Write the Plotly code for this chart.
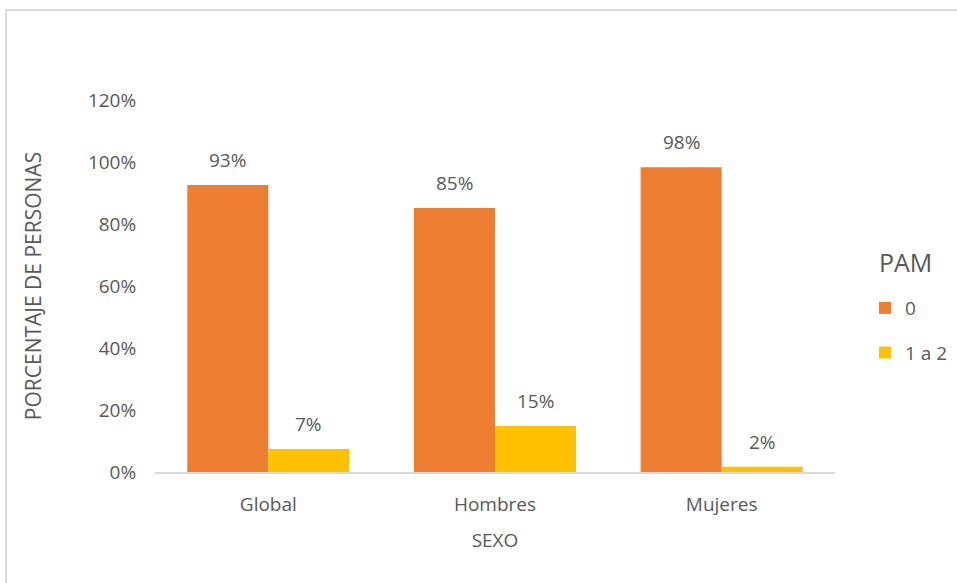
import plotly.graph_objects as go

categories = ["Global", "Hombres", "Mujeres"]
series_names = ["0", "1 a 2"]
values_0 = [0.926, 0.852, 0.983]
values_1a2 = [0.074, 0.148, 0.017]
colors = ["#ED7D31", "#FFC000"]
y_ticks = [0, 0.2, 0.4, 0.6, 0.8, 1.0, 1.2]
legend_title = "PAM"

FONT = "Open Sans"
GRAY = "#595959"

fig = go.Figure()
for i, (name, vals) in enumerate(zip(series_names, [values_0, values_1a2])):
    fig.add_trace(go.Bar(
        x=categories, y=vals, name=name, marker_color=colors[i],
        marker_line_width=0, legendgroup=name,
    ))

# data labels
offsets = [-40.5, 40.5]
for i, vals in enumerate([values_0, values_1a2]):
    for c, v in zip(categories, vals):
        fig.add_annotation(
            x=c, y=v, text=f"{round(v*100):.0f}%", showarrow=False,
            xshift=offsets[i], yanchor="bottom", yshift=10,
            font=dict(family=FONT, size=19, color=GRAY),
        )

L, R, T, B = 155, 122, 100, 111
W, H = 957, 583
pw, ph = W - L - R, H - T - B

def px_x(px):
    return (px - L) / pw

def px_y(py):
    return (H - B - py) / ph

# legend title
fig.add_annotation(
    xref="paper", yref="paper", x=px_x(877), y=px_y(262),
    xanchor="left", yanchor="middle", text=legend_title, showarrow=False,
    font=dict(family=FONT, size=25, color=GRAY),
)

# chart border (outer frame)
fig.add_shape(type="line", xref="paper", yref="paper",
              x0=px_x(6), x1=px_x(960), y0=px_y(10), y1=px_y(10),
              line=dict(color="#D9D9D9", width=2))
fig.add_shape(type="line", xref="paper", yref="paper",
              x0=px_x(6), x1=px_x(6), y0=px_y(10), y1=px_y(590),
              line=dict(color="#D9D9D9", width=2))

fig.update_layout(
    width=W, height=H,
    margin=dict(l=L, r=R, t=T, b=B, autoexpand=False),
    paper_bgcolor="white", plot_bgcolor="white",
    barmode="group", bargap=0.285, bargroupgap=0,
    font=dict(family=FONT, color=GRAY, size=19),
    legend=dict(
        x=px_x(865), xanchor="left", y=px_y(289), yanchor="top",
        font=dict(size=19, color=GRAY), tracegroupgap=17,
        itemwidth=30,
    ),
    showlegend=True,
)
fig.update_xaxes(
    showline=True, linecolor="#D9D9D9", linewidth=2,
    ticks="outside", ticklen=14, tickcolor="rgba(0,0,0,0)",
    tickfont=dict(size=19, color=GRAY),
    title=dict(text="SEXO", font=dict(size=19, color=GRAY), standoff=18),
)
fig.update_yaxes(
    range=[0, 1.2], tickvals=y_ticks, tickformat=".0%",
    showgrid=False, zeroline=False, showline=False,
    ticks="outside", ticklen=14, tickcolor="rgba(0,0,0,0)",
    tickfont=dict(size=19, color=GRAY),
    title=dict(text="PORCENTAJE DE PERSONAS", font=dict(size=21, color=GRAY), standoff=40),
)

fig.write_html("out.html")
